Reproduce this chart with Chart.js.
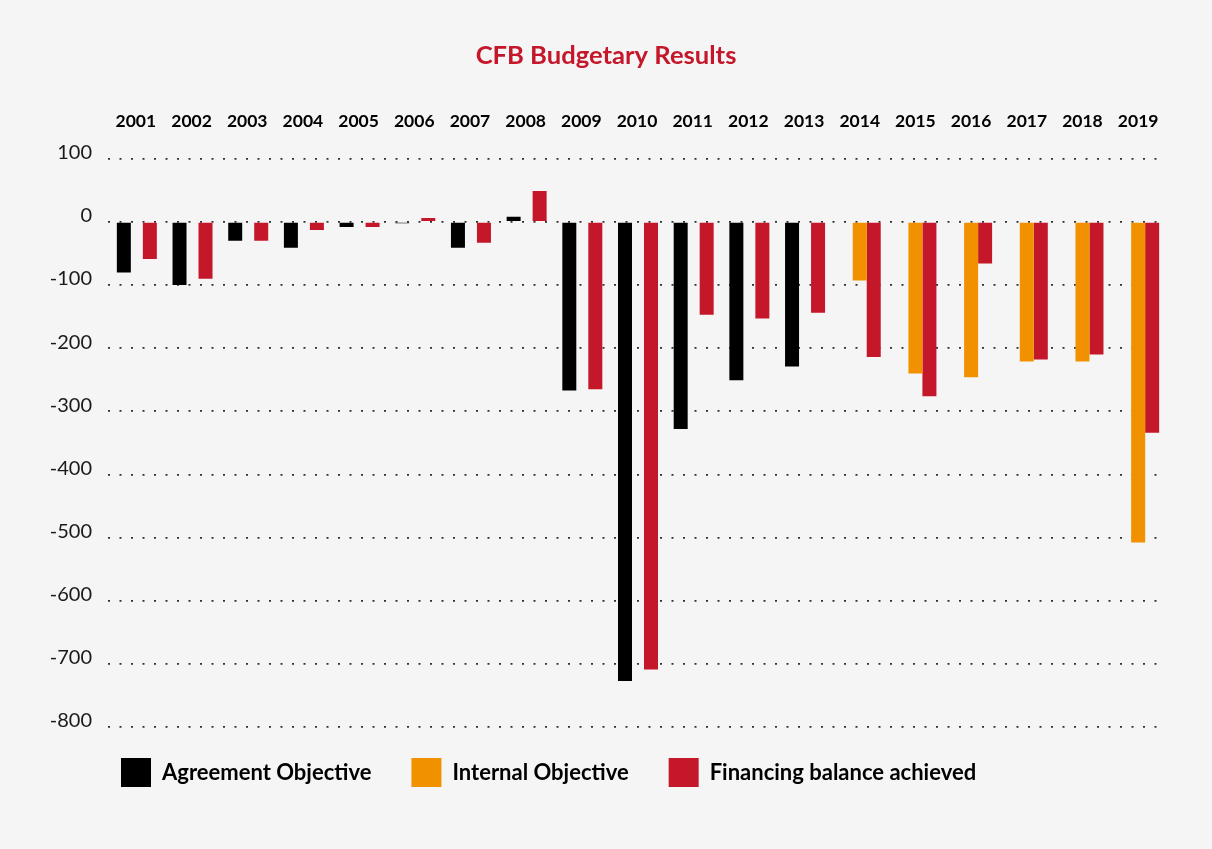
<!DOCTYPE html>
<html>
<head>
<meta charset="utf-8">
<script src="https://cdn.jsdelivr.net/npm/chart.js@4.4.1/dist/chart.umd.min.js"></script>
<style>
  html, body { margin: 0; padding: 0; background: #f5f5f5; }
  #wrap { width: 1212px; height: 849px; }
</style>
</head>
<body>
<div id="wrap"><canvas id="c" width="1212" height="849"></canvas></div>
<script>
const years = ['2001','2002','2003','2004','2005','2006','2007','2008','2009','2010','2011','2012','2013','2014','2015','2016','2017','2018','2019'];
const agreementObjective = [-80, -100, -30, -41, -8, -2, -41, 8, -267, -727, -328, -251, -229, null, null, null, null, null, null];
const internalObjective = [null, null, null, null, null, null, null, null, null, null, null, null, null, -93, -240, -246, -221, -221, -508];
const balanceAchieved = [-59, -90, -30, -13, -8, 6, -33, 49, -265, -709, -147, -153, -144, -214, -276, -66, -218, -210, -334];
const yTicks = [100, 0, -100, -200, -300, -400, -500, -600, -700, -800];

const RED = '#c4172a';
const ORANGE = '#f29100';
const BLACK = '#000000';
const FONT = 'Lato, "Open Sans", sans-serif';

const blockShift = {
  id: 'blockShift',
  afterLayout(chart) {
    const l = chart.legend;
    if (l) {
      l.left += 81; l.right += 81;
      l.top -= 9; l.bottom -= 9;
    }
    const t = chart.titleBlock;
    if (t) {
      t.left = 0; t.right = chart.width;
    }
  }
};

new Chart(document.getElementById('c'), {
  type: 'bar',
  data: {
    labels: years,
    datasets: [
      {
        label: 'Agreement Objective',
        data: agreementObjective,
        backgroundColor: BLACK,
        borderWidth: 0,
        categoryPercentage: 0.862,
        barPercentage: 0.583
      },
      {
        label: 'Internal Objective',
        data: internalObjective,
        backgroundColor: ORANGE,
        borderWidth: 0,
        grouped: false,
        categoryPercentage: 1,
        barPercentage: 0.2514
      },
      {
        label: 'Financing balance achieved',
        data: balanceAchieved,
        backgroundColor: RED,
        borderWidth: 0,
        categoryPercentage: 1.0057,
        barPercentage: 0.5
      }
    ]
  },
  options: {
    responsive: false,
    animation: false,
    devicePixelRatio: 1,
    layout: { padding: { left: 0, right: 46, top: 0, bottom: 43 } },
    plugins: {
      title: {
        display: true,
        text: 'CFB Budgetary Results',
        color: RED,
        font: { family: FONT, size: 25.6, weight: 'bold', lineHeight: 1.2 },
        padding: { top: 40, bottom: 0 }
      },
      legend: {
        display: true,
        position: 'bottom',
        align: 'start',
        labels: {
          boxWidth: 30,
          boxHeight: 29,
          padding: 40,
          color: '#000',
          font: { family: FONT, size: 22, weight: 'bold' }
        }
      },
      tooltip: { enabled: false }
    },
    scales: {
      x: {
        position: 'top',
        grid: { display: false, drawTicks: false },
        border: { display: false },
        ticks: {
          color: '#000',
          padding: 27,
          maxRotation: 0,
          autoSkip: false,
          font: { family: FONT, size: 17.5, weight: 'bold' }
        },
        afterFit(scale) { scale.height = 88; }
      },
      y: {
        min: -800,
        max: 100,
        afterBuildTicks(scale) { scale.ticks = yTicks.map(v => ({ value: v })); },
        grid: { color: 'rgba(0,0,0,0.8)', lineWidth: 1.8, drawTicks: false },
        border: { display: false, dash: [2, 9.5] },
        ticks: {
          color: '#1a1a1a',
          padding: 16,
          labelOffset: -6,
          font: { family: FONT, size: 20 }
        },
        afterFit(scale) { scale.width = 108; }
      }
    }
  },
  plugins: [blockShift]
});
</script>
</body>
</html>
